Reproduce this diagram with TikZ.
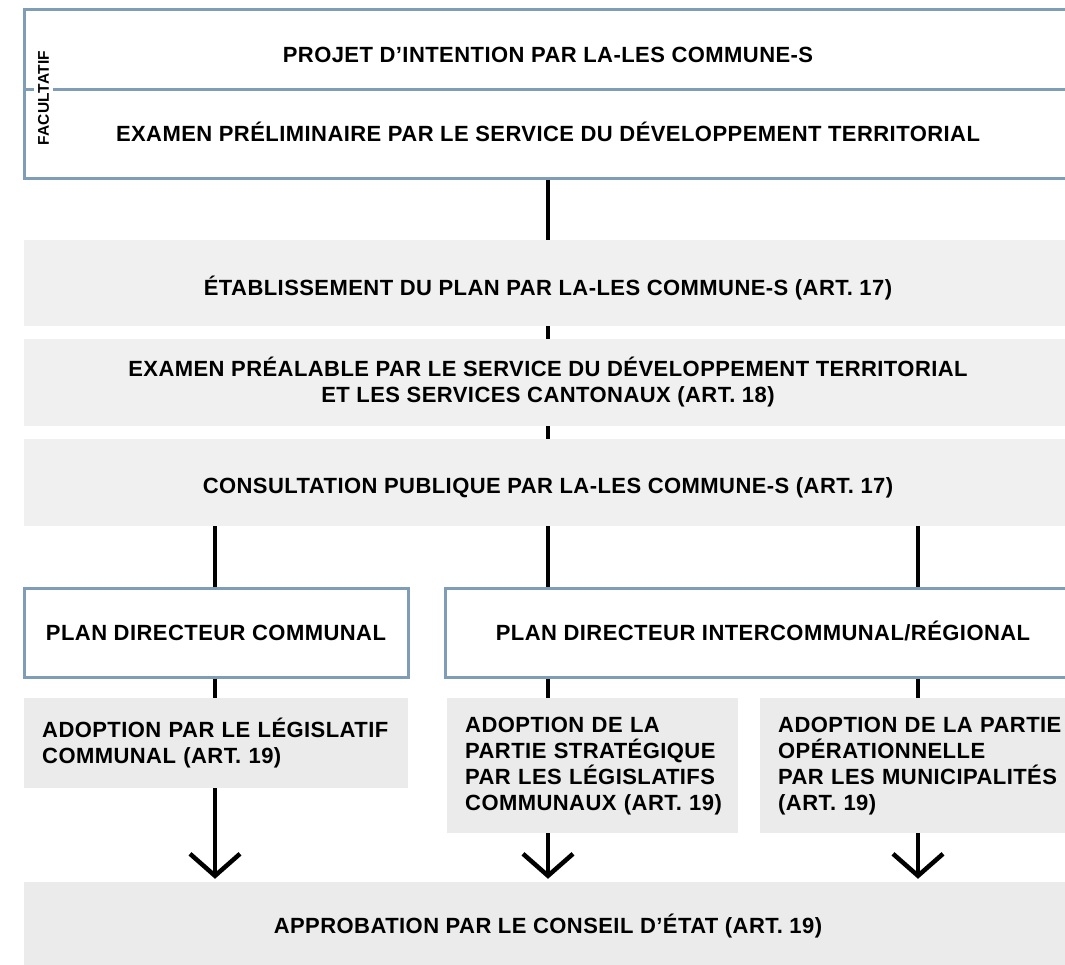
\documentclass[tikz,border=0pt]{standalone}
\usepackage{fontspec}
\setmainfont[LetterSpace=2]{Liberation Sans}
\usetikzlibrary{arrows.meta}
\definecolor{frameblue}{RGB}{127,157,182}
\definecolor{lightgrey}{RGB}{240,240,240}
\definecolor{midgrey}{RGB}{235,235,235}
\tikzset{
    stage/.style={font=\fontsize{22}{26}\selectfont\bfseries, align=center, inner sep=0pt},
    framebox/.style={stage, draw=frameblue, line width=3pt, fill=white},
    greybox/.style={stage, fill=lightgrey},
    adoptbox/.style={stage, fill=midgrey, align=left, inner xsep=18pt},
    capsline/.style={text height=#1, text depth=0pt},
    link/.style={line width=4.5pt},
    arrowlink/.style={link, -{Straight Barb[length=22pt,width=50pt]}, shorten >=3pt},
}
\begin{document}
\begin{tikzpicture}[x=1pt,y=-1pt]
        \useasboundingbox (0,0) rectangle (1065,965);

        % Optional part
        \node[framebox, capsline=26pt, minimum width=1048, minimum height=80] (projet) at (548,50)
            {PROJET D'INTENTION PAR LA-LES COMMUNE-S};
        \node[framebox, capsline=15pt, minimum width=1048, minimum height=89] (examen) at (548,134.5)
            {EXAMEN PRÉLIMINAIRE PAR LE SERVICE DU DÉVELOPPEMENT TERRITORIAL};
        \node[fill=white, rotate=90, inner xsep=3pt, inner ysep=4pt,
            font=\fontsize{15.5}{18}\selectfont\bfseries] (facultatif) at (43.5,98) {FACULTATIF};

        % Common stages
        \node[greybox, capsline=26pt, minimum width=1048, minimum height=86] (etab) at (548,283)
            {ÉTABLISSEMENT DU PLAN PAR LA-LES COMMUNE-S (ART. 17)};
        \node[greybox, minimum width=1048, minimum height=87] (prealable) at (548,382.5)
            {EXAMEN PRÉALABLE PAR LE SERVICE DU DÉVELOPPEMENT TERRITORIAL\\
             ET LES SERVICES CANTONAUX (ART. 18)};
        \node[greybox, capsline=22pt, minimum width=1048, minimum height=87] (consult) at (548,482.5)
            {CONSULTATION PUBLIQUE PAR LA-LES COMMUNE-S (ART. 17)};

        % Column positions
        \coordinate (colA) at (215,0);
        \coordinate (colB) at (548,0);
        \coordinate (colC) at (918,0);

        % Plan types
        \node[framebox, capsline=16pt, minimum width=384, minimum height=89] (pdc) at (216,632.5)
            {PLAN DIRECTEUR COMMUNAL};
        \node[framebox, capsline=16pt, minimum width=636, minimum height=89] (pdir) at (763,632.5)
            {PLAN DIRECTEUR INTERCOMMUNAL/RÉGIONAL};

        % Adoption
        \node[adoptbox, anchor=north west, text width=348, minimum height=90] (adoptA) at (24,698)
            {ADOPTION~PAR~LE~LÉGISLATIF\\ COMMUNAL~(ART.~19)};
        \node[adoptbox, anchor=north west, text width=255, minimum height=135] (adoptB) at (447,698)
            {ADOPTION~DE~LA\\ PARTIE~STRATÉGIQUE\\ PAR~LES~LÉGISLATIFS\\ COMMUNAUX~(ART.~19)};
        \node[adoptbox, anchor=north west, text width=300, minimum height=135] (adoptC) at (760,698)
            {ADOPTION~DE~LA~PARTIE\\ OPÉRATIONNELLE\\ PAR~LES~MUNICIPALITÉS\\ (ART.~19)};

        % Approval
        \node[greybox, fill=midgrey, minimum width=1048, minimum height=88] (appro) at (548,926)
            {APPROBATION PAR LE CONSEIL D'ÉTAT (ART. 19)};

        % Links
        \draw[link] (examen.south) -- (etab.north);
        \draw[link] (etab.south) -- (prealable.north);
        \draw[link] (prealable.south) -- (consult.north);
        \draw[link] (consult.south -| colA) -- (pdc.north -| colA);
        \draw[link] (consult.south -| colB) -- (pdir.north -| colB);
        \draw[link] (consult.south -| colC) -- (pdir.north -| colC);
        \draw[link] (pdc.south -| colA) -- (adoptA.north -| colA);
        \draw[link] (pdir.south -| colB) -- (adoptB.north -| colB);
        \draw[link] (pdir.south -| colC) -- (adoptC.north -| colC);
        \draw[arrowlink] (adoptA.south -| colA) -- (appro.north -| colA);
        \draw[arrowlink] (adoptB.south -| colB) -- (appro.north -| colB);
        \draw[arrowlink] (adoptC.south -| colC) -- (appro.north -| colC);
    \end{tikzpicture}
\end{document}
